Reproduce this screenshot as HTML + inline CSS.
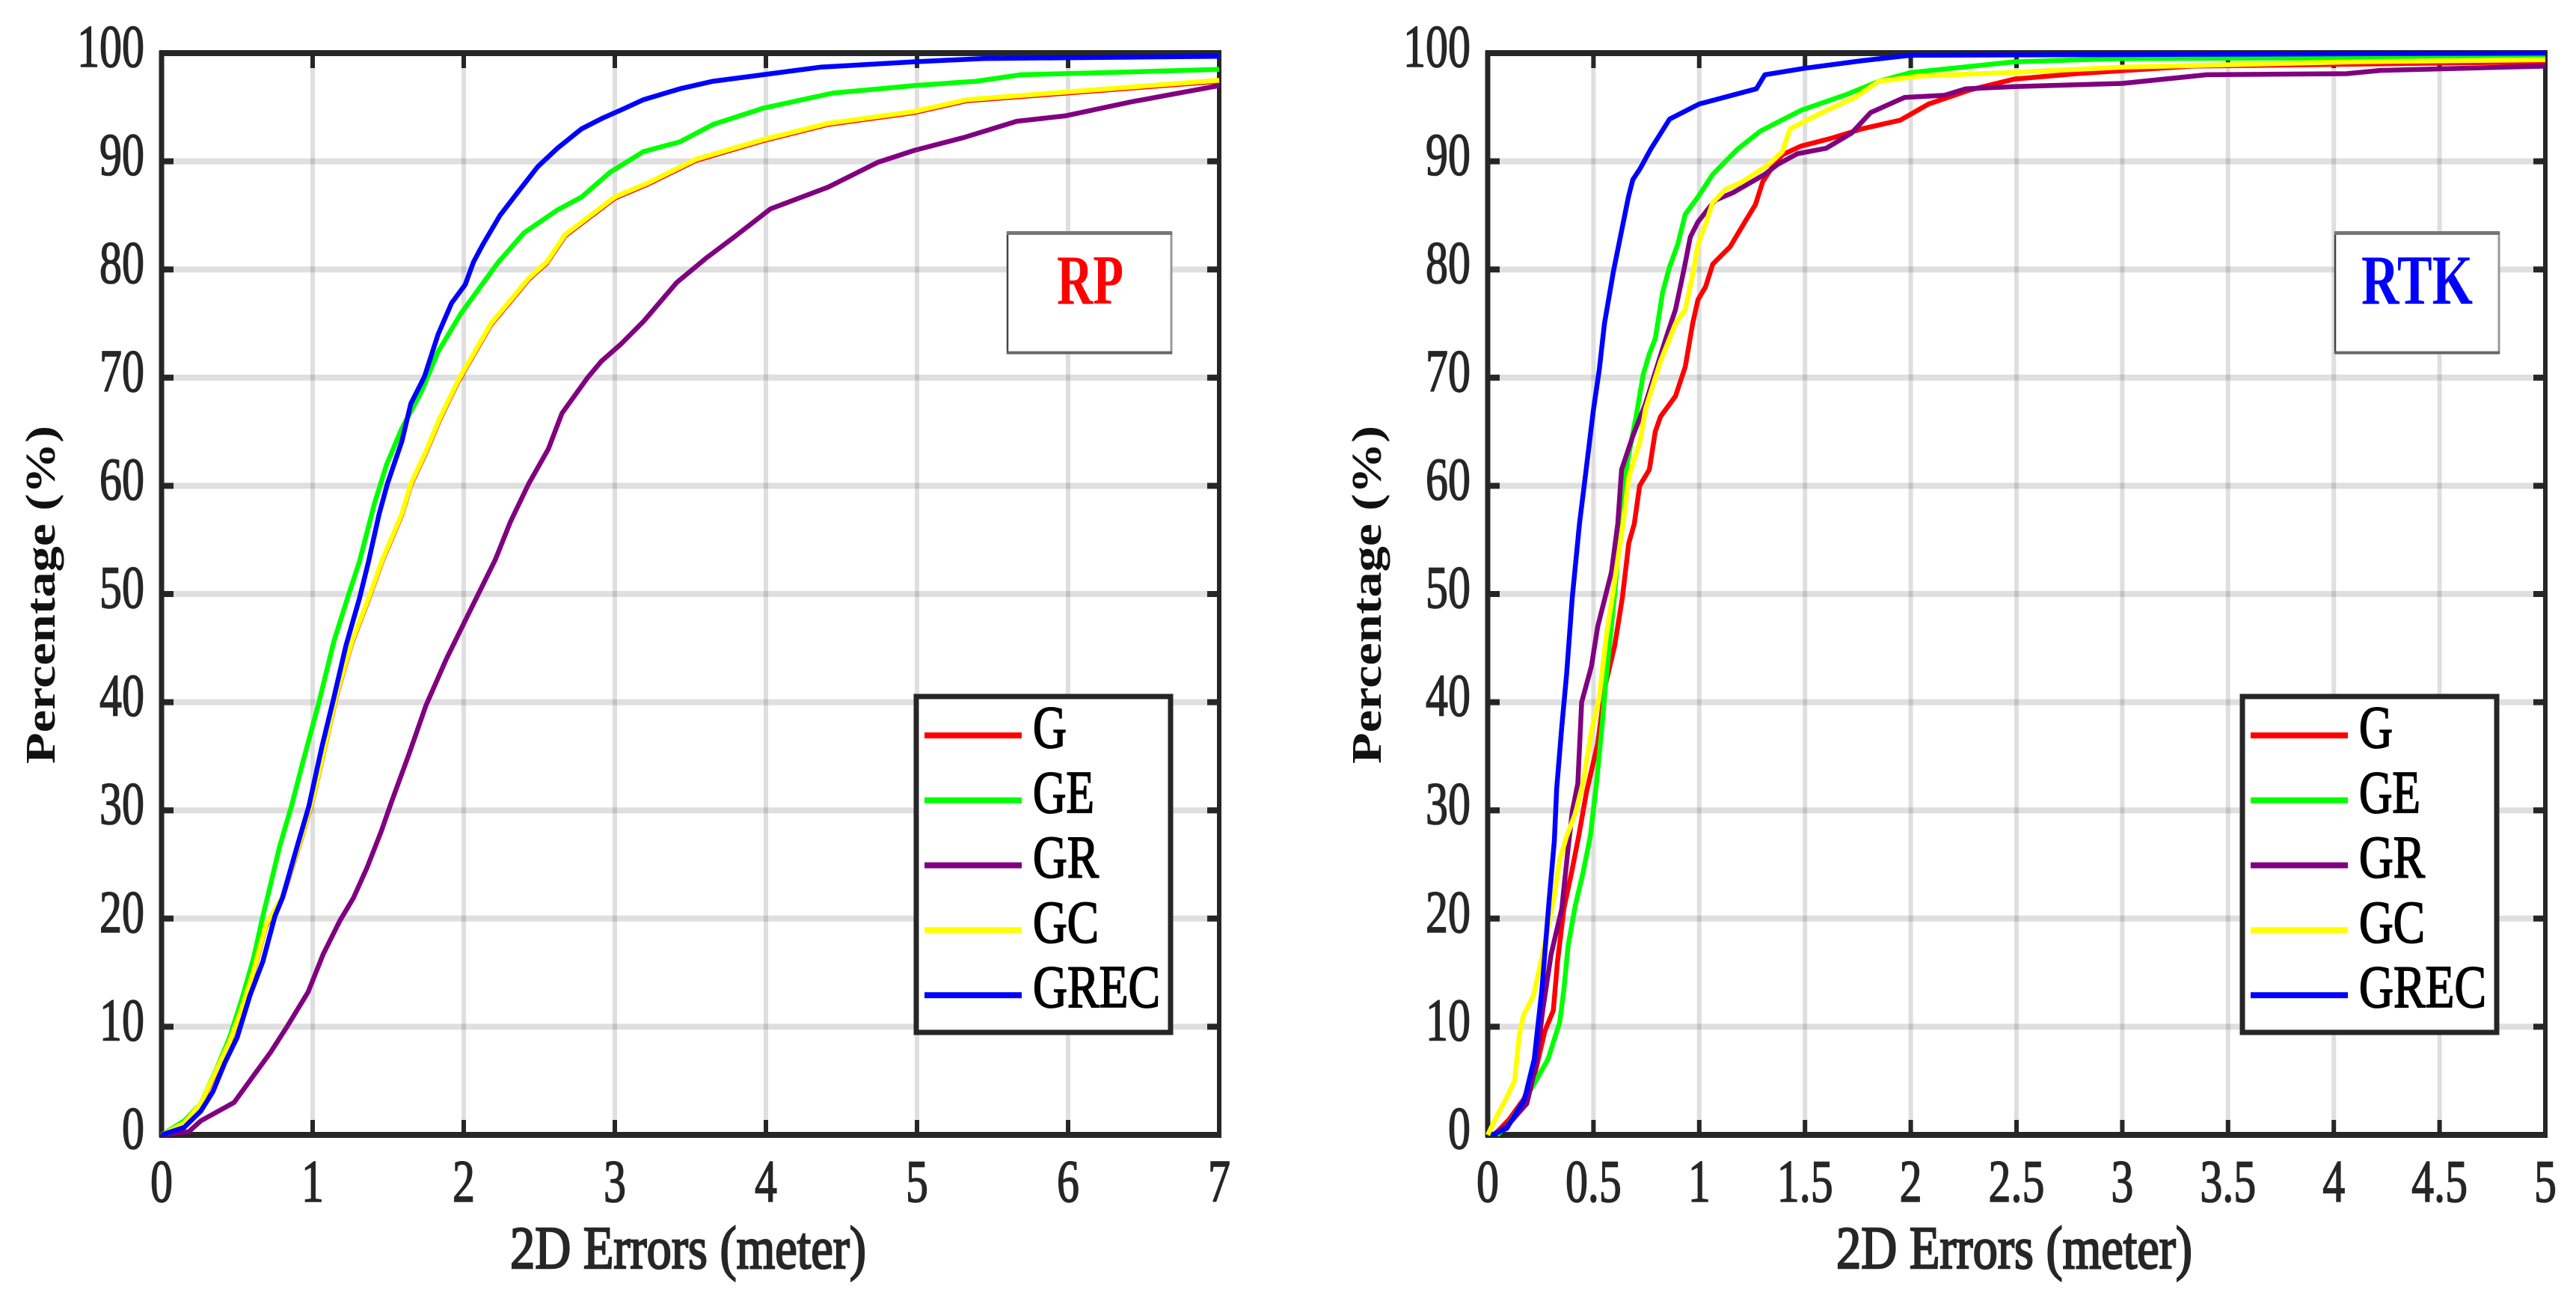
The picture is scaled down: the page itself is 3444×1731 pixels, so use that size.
<!DOCTYPE html>
<html lang="en">
<head>
<meta charset="utf-8">
<title>2D Errors CDF: RP and RTK</title>
<style>
html,body{margin:0;padding:0;background:#fff;width:3444px;height:1731px;overflow:hidden}
svg{display:block}
text{font-family:"Liberation Serif",serif}
</style>
</head>
<body>
<svg id="figure" xmlns="http://www.w3.org/2000/svg" width="3444" height="1731" viewBox="0 0 3444 1731"></svg>
<script>
// ---- Shared tick labels ----
const yTickLabels = [0,10,20,30,40,50,60,70,80,90,100];
const rpXTickLabels = [0,1,2,3,4,5,6,7];
const rtkXTickLabels = [0,0.5,1,1.5,2,2.5,3,3.5,4,4.5,5];
const seriesNames = ['G','GE','GR','GC','GREC'];
const seriesColors = ['#ff0000','#00ff00','#800080','#ffff00','#0000ff'];

// ---- RP panel data ----
const rpGx = [0,.15,.26,.35,.45,.53,.61,.69,.8,.93,1.01,1.1,1.16,1.26,1.37,1.465,1.59,1.65,1.75,1.84,1.965,2.065,2.18,2.3,2.43,2.55,2.67,3,3.22,3.54,3.98,4.41,4.98,5.33,5.98,7];
const rpGy = [0,1.1,2.8,5.5,8.5,11.6,15.1,19.3,21.9,27.6,31.5,37,40.7,45.5,49.5,53.2,57.3,60.1,63.1,66.1,69.7,72.1,74.9,76.9,79.1,80.6,83.1,86.6,87.9,90.1,91.9,93.4,94.5,95.6,96.3,97.4];
const rpGEx = [0,.15,.26,.37,.45,.53,.61,.67,.7,.78,.86,.93,1.04,1.14,1.23,1.31,1.41,1.49,1.59,1.72,1.83,1.98,2.11,2.23,2.4,2.62,2.78,2.97,3.19,3.43,3.65,3.98,4.44,4.98,5.39,5.69,6.26,7];
const rpGEy = [0,1.3,2.9,6.3,9,12.5,16.4,20.2,21.9,26.6,30.4,34.2,39.9,45.6,49.6,53,58.4,62,65.3,68.7,72.4,75.9,78.4,80.7,83.4,85.5,86.7,89,90.9,91.8,93.4,94.9,96.3,97,97.4,98,98.2,98.5];
const rpGRx = [0,.18,.26,.48,.61,.72,.83,.97,1.07,1.18,1.27,1.36,1.455,1.52,1.64,1.75,1.885,2.04,2.21,2.31,2.43,2.56,2.65,2.82,2.91,3.04,3.19,3.41,3.6,3.79,4.03,4.41,4.74,4.98,5.31,5.66,5.98,6.42,7];
const rpGRy = [0,.3,1.3,3,5.5,7.6,10,13.2,16.7,19.8,21.9,24.7,28.1,30.7,35.3,39.7,44,48.4,53.2,56.7,60.2,63.4,66.7,70,71.5,73.1,75.2,78.8,81,83,85.6,87.6,89.9,91,92.2,93.7,94.2,95.5,97];
const rpGCx = [0,.15,.26,.35,.45,.53,.61,.69,.8,.93,1.01,1.1,1.16,1.26,1.37,1.465,1.59,1.65,1.75,1.84,1.965,2.065,2.18,2.3,2.43,2.55,2.67,3,3.22,3.54,3.98,4.41,4.98,5.33,5.98,7];
const rpGCy = [0,1.1,2.9,5.6,8.6,11.7,15.2,19.4,22,27.7,31.6,37.1,40.8,45.6,49.6,53.3,57.4,60.2,63.2,66.2,69.8,72.2,75,77,79.2,80.7,83.2,86.7,88,90.2,92,93.5,94.6,95.7,96.4,97.5];
const rpGRECx = [0,.15,.26,.34,.42,.5,.585,.67,.75,.8,.9,.975,1.06,1.14,1.22,1.31,1.37,1.44,1.495,1.59,1.65,1.74,1.83,1.92,2.01,2.065,2.13,2.24,2.35,2.49,2.62,2.78,2.92,3.05,3.19,3.43,3.65,3.98,4.36,4.98,5.44,7];
const rpGRECy = [0,.7,2.2,4,6.7,9,12.9,16,20.2,21.9,26.8,30.4,35.8,40.4,45.2,49.6,53,57.4,60.2,64.1,67.6,70.1,74,76.9,78.6,80.7,82.4,85,87,89.5,91.2,93,94,94.8,95.7,96.7,97.4,98,98.7,99.2,99.5,99.7];

// ---- RTK panel data ----
const rtkGx = [.03,.1,.17,.226,.27,.31,.33,.36,.4,.43,.467,.52,.555,.6,.637,.667,.693,.718,.764,.792,.817,.888,.934,.969,.994,1.03,1.064,1.146,1.216,1.266,1.3,1.347,1.393,1.48,1.62,1.77,1.95,2.085,2.28,2.49,2.78,3.33,5];
const rtkGy = [0,1.4,3.3,5.9,9.6,11.5,16,20.9,24.6,27.6,31.7,36.2,41.5,45.2,49.7,54.7,56.5,60,61.5,65,66.4,68.3,71,75,77.2,78.4,80.5,82.1,84.4,86,88.1,89.5,90.6,91.4,92.1,93,93.8,95.3,96.6,97.6,98.1,98.8,99.2];
const rtkGEx = [.045,.1,.21,.285,.34,.36,.38,.414,.45,.485,.514,.54,.56,.6,.65,.704,.735,.764,.792,.827,.859,.898,.934,.994,1.064,1.18,1.29,1.48,1.7,1.85,2,2.49,3,5];
const rtkGEy = [0,1,4.4,7,10.4,13.4,17.5,21.2,24.2,27.6,32.5,37.7,42.2,50,61.1,66.7,70.3,72.2,73.6,77.9,80.2,82.3,85.1,86.7,88.8,91.1,92.8,94.7,96.2,97.4,98.2,99.2,99.5,99.6];
const rtkGRx = [.03,.1,.185,.23,.26,.3,.35,.38,.4,.426,.444,.49,.52,.585,.615,.633,.686,.746,.792,.842,.888,.93,.958,.994,1.075,1.16,1.31,1.37,1.464,1.6,1.72,1.81,1.97,2.16,2.26,2.49,3,3.4,4.06,4.22,5];
const rtkGRy = [0,1,2.9,6.6,11.5,16.7,20.9,26.5,29.9,32.5,40,43.3,47,52,56.5,61.5,64.6,67.6,70.5,73.6,76.3,80.2,83,84.4,86.4,87.1,88.8,89.7,90.7,91.2,92.6,94.5,95.9,96.1,96.7,96.9,97.2,98,98.1,98.4,98.8];
const rtkGCx = [0,.045,.086,.127,.15,.17,.215,.256,.31,.34,.373,.414,.45,.49,.526,.56,.6,.64,.668,.72,.746,.817,.888,.934,.969,.994,1.03,1.064,1.124,1.195,1.322,1.393,1.43,1.58,1.735,1.85,2.05,2.47,3,4.1,5];
const rtkGCy = [0,1.8,3.3,5,9.3,11.1,12.8,16.4,21.6,25.4,27.6,29.7,32.5,37.3,40.3,46,51.2,56.5,60.9,64.1,67.1,71.5,75,76.3,79.5,82.3,84.2,86.2,87.4,88,89.6,90.9,93,94.5,95.9,97.4,97.9,98.2,98.7,99.2,99.4];
const rtkGRECx = [.02,.09,.174,.22,.256,.29,.315,.326,.35,.373,.4,.434,.463,.499,.528,.552,.594,.63,.665,.686,.72,.77,.86,1,1.27,1.31,1.5,1.77,2,5];
const rtkGRECy = [0,.6,3.3,7,13.4,21.6,27.2,32,37.7,42.6,49.7,56.5,61.1,66.9,70.8,75,79.8,83.3,86.7,88.3,89.3,91.1,93.9,95.3,96.7,98,98.6,99.3,99.8,100];

const rpXSeries = [rpGx,rpGEx,rpGRx,rpGCx,rpGRECx];
const rpYSeries = [rpGy,rpGEy,rpGRy,rpGCy,rpGRECy];
const rtkXSeries = [rtkGx,rtkGEx,rtkGRx,rtkGCx,rtkGRECx];
const rtkYSeries = [rtkGy,rtkGEy,rtkGRy,rtkGCy,rtkGRECy];

const NS = 'http://www.w3.org/2000/svg';
const svg = document.getElementById('figure');
const INK = '#262626';
const TOP = 71, BOTTOM = 1517;

function make(tag, parent, attrs, txt){
  const e = document.createElementNS(NS, tag);
  for (const k in attrs) e.setAttribute(k, attrs[k]);
  if (txt !== undefined) e.textContent = txt;
  parent.appendChild(e);
  return e;
}

function squeezed(parent, str, x, y, size, anchor, fill){
  const t = make('text', parent, {
    transform: 'translate(' + x + ',' + y + ') scale(.74,1)',
    'font-size': size, 'text-anchor': anchor, fill: fill, stroke: fill, 'stroke-width': 1.6
  }, str);
  return t;
}

function drawPanel(p){
  const g = make('g', svg, {});
  
  
  const xA = v => p.left + (v - p.xMin) / (p.xMax - p.xMin) * (p.right - p.left);
  const yA = v => BOTTOM - v / 100 * (BOTTOM - TOP);

  // plot background
  const bg = make('rect', g, {x:p.left, y:TOP, width:p.right-p.left, height:BOTTOM-TOP, fill:'#fff'});
  
  

  // gridlines
  const grid = make('g', g, {stroke:'#262626', 'stroke-opacity':'.15'});
  
  
  p.xTicks.forEach(v => {
    if (v === p.xMin || v === p.xMax) return;
    const l = make('line', grid, {x1:xA(v), x2:xA(v), y1:TOP, y2:BOTTOM, 'stroke-width':6});
    
    
  });
  yTickLabels.forEach(v => {
    if (v === 0 || v === 100) return;
    const l = make('line', grid, {x1:p.left, x2:p.right, y1:yA(v), y2:yA(v), 'stroke-width':8});
    
    
  });

  // ticks
  const ticks = make('g', g, {stroke:INK});
  
  
  p.xTicks.forEach(v => {
    if (v === p.xMin || v === p.xMax) return;
    make('line', ticks, {x1:xA(v), x2:xA(v), y1:BOTTOM, y2:BOTTOM-20, 'stroke-width':6});
    make('line', ticks, {x1:xA(v), x2:xA(v), y1:TOP, y2:TOP+20, 'stroke-width':6});
  });
  yTickLabels.forEach(v => {
    if (v === 0 || v === 100) return;
    make('line', ticks, {x1:p.left, x2:p.left+16, y1:yA(v), y2:yA(v), 'stroke-width':8});
    make('line', ticks, {x1:p.right, x2:p.right-16, y1:yA(v), y2:yA(v), 'stroke-width':8});
  });

  // frame
  const frame = make('g', g, {stroke:INK});
  
  
  make('line', frame, {x1:p.left, x2:p.left, y1:TOP-3, y2:BOTTOM+3, 'stroke-width':7});
  make('line', frame, {x1:p.right, x2:p.right, y1:TOP-3, y2:BOTTOM+3, 'stroke-width':6});
  make('line', frame, {x1:p.left-3, x2:p.right+3, y1:TOP, y2:TOP, 'stroke-width':8});
  make('line', frame, {x1:p.left-3, x2:p.right+3, y1:BOTTOM, y2:BOTTOM, 'stroke-width':8});

  // tick labels
  p.xTicks.forEach(v => {
    const t = squeezed(g, String(v), xA(v), 1606, 81, 'middle', INK);
    
    
  });
  yTickLabels.forEach(v => {
    const t = squeezed(g, String(v), p.left-23, yA(v)+18, 81, 'end', INK);
    
    
  });

  // axis titles
  const xt = make('text', g, {x:p.xTitleX, y:1695, 'font-size':80, fill:INK, stroke:INK, 'stroke-width':2.4,
    textLength:476, lengthAdjust:'spacingAndGlyphs'}, '2D Errors (meter)');
  
  
  const yt = make('text', g, {transform:'translate(' + p.yTitleX + ',1021) rotate(-90)', 'font-size':56,
    'font-weight':'bold', fill:'#111', textLength:452, lengthAdjust:'spacingAndGlyphs'}, 'Percentage (%)');
  
  

  // series
  seriesNames.forEach((name, i) => {
    const pts = p.xs[i].map((x, j) => xA(x).toFixed(1) + ',' + yA(p.ys[i][j]).toFixed(1)).join(' ');
    const l = make('polyline', g, {points:pts, fill:'none', stroke:seriesColors[i], 'stroke-width':6.5,
      'stroke-linejoin':'round', 'stroke-linecap':'butt'});
    
    
  });

  // annotation box
  const ann = make('g', g, {});
  
  
  make('rect', ann, {x:p.boxX, y:310, width:219, height:161, fill:'#fff'});
  make('line', ann, {x1:p.boxX, x2:p.boxX, y1:310, y2:473, stroke:'#444', 'stroke-width':2.5});
  make('line', ann, {x1:p.boxX+219, x2:p.boxX+219, y1:310, y2:473, stroke:'#999', 'stroke-width':3});
  make('line', ann, {x1:p.boxX-1, x2:p.boxX+220, y1:311.5, y2:311.5, stroke:'#777', 'stroke-width':5});
  make('line', ann, {x1:p.boxX-1, x2:p.boxX+220, y1:471.5, y2:471.5, stroke:'#666', 'stroke-width':4});
  make('text', ann, {x:p.labelX, y:406, 'font-size':94, 'font-weight':'bold', fill:p.labelColor,
    textLength:p.labelW, lengthAdjust:'spacingAndGlyphs'}, p.label);

  // legend
  const dx = p.legendDx;
  const leg = make('g', g, {});
  
  
  make('rect', leg, {x:1225+dx, y:931, width:340, height:449, fill:'#fff', stroke:INK, 'stroke-width':7});
  const legWidths = [45,82,88,88,170];
  seriesNames.forEach((name, i) => {
    const rowY = 983 + i * 86.8;
    const sw = make('line', leg, {x1:1236+dx, x2:1366+dx, y1:rowY, y2:rowY, stroke:seriesColors[i], 'stroke-width':8});
    
    
    const tx = make('text', leg, {x:1381+dx, y:rowY+16, 'font-size':80, fill:'#000', stroke:'#000', 'stroke-width':1.8,
      textLength:legWidths[i], lengthAdjust:'spacingAndGlyphs'}, name);
    
    
  });
}

drawPanel({id:'rp', left:216, right:1630, xMin:0, xMax:7, xTicks:rpXTickLabels, xs:rpXSeries, ys:rpYSeries,
  xTitleX:682, yTitleX:73, boxX:1347, label:'RP', labelX:1413, labelW:89, labelColor:'#ff0000', legendDx:0});
drawPanel({id:'rtk', left:1989, right:3403, xMin:0, xMax:5, xTicks:rtkXTickLabels, xs:rtkXSeries, ys:rtkYSeries,
  xTitleX:2455, yTitleX:1846, boxX:3122, label:'RTK', labelX:3157, labelW:149, labelColor:'#0000ff', legendDx:1773});
</script>
</body>
</html>
